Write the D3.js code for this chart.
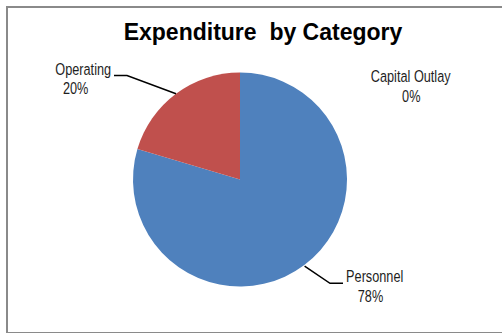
<!DOCTYPE html>
<html>
<head>
<meta charset="utf-8">
<script src="https://cdn.jsdelivr.net/npm/d3@7"></script>
<style>
  html, body { margin: 0; padding: 0; background: #fff; }
  svg { display: block; }
</style>
</head>
<body>
<svg id="chart" width="502" height="333"></svg>
<script>
// ---- data ----
const title = "Expenditure  by Category";
const categories = ["Personnel", "Operating", "Capital Outlay"];
const values = [78, 20, 0];            // percent of total
const colors = ["#4F81BD", "#C0504D", "#9BBB59"];

// ---- layout ----
const W = 502, H = 333;
const cx = 240, cy = 179.5, R = 107;
// label placement relative to pie centre (name line, percent line), plus leader elbows
const labelLayout = {
  "Personnel":      { nx: 134.7, ny: 102, px: 130.5, py: 122,
                      leader: { r: 108, elbow: [90, 103.8], end: [103, 103.8] } },
  "Operating":      { nx: -156.8, ny: -105, px: -164.3, py: -85.5,
                      leader: { r: 107, elbow: [-113, -104], end: [-126, -104] } },
  "Capital Outlay": { nx: 170.7, ny: -98, px: 171.3, py: -78, leader: null }
};
const narrow = 0.77;   // horizontal compression of the narrow label face

const svg = d3.select("#chart");

// chart border
svg.append("rect")
  .attr("x", 7).attr("y", 7)
  .attr("width", 530).attr("height", 326)
  .attr("fill", "#fff")
  .attr("stroke", "#8a8a8a")
  .attr("stroke-width", 2);

// title
svg.append("text")
  .attr("x", 263).attr("y", 39.5)
  .attr("text-anchor", "middle")
  .attr("font-family", "Arial, 'Liberation Sans', sans-serif")
  .attr("font-weight", "bold")
  .attr("font-size", 23)
  .attr("fill", "#000")
  .style("white-space", "pre")
  .text(title);

const data = categories.map((c, i) => ({ name: c, value: values[i], color: colors[i] }));

const pie = d3.pie().sort(null).value(d => d.value).startAngle(0).endAngle(2 * Math.PI);
const arcs = pie(data);
const arc = d3.arc().innerRadius(0).outerRadius(R);

const g = svg.append("g").attr("transform", `translate(${cx},${cy})`);

g.selectAll("path.slice")
  .data(arcs)
  .join("path")
  .attr("class", "slice")
  .attr("d", arc)
  .attr("fill", d => d.data.color);

// leader lines
arcs.forEach(a => {
  const L = labelLayout[a.data.name];
  if (!L || !L.leader || a.data.value === 0) return;
  const mid = (a.startAngle + a.endAngle) / 2;
  const p0 = [Math.sin(mid) * L.leader.r, -Math.cos(mid) * L.leader.r];
  g.append("path")
    .attr("d", d3.line()([p0, L.leader.elbow, L.leader.end]))
    .attr("fill", "none")
    .attr("stroke", "#000")
    .attr("stroke-width", 1.5);
});

// labels
const labelFont = "Arial, 'Liberation Sans', sans-serif";
function addLabel(x, y, txt) {
  g.append("g")
    .attr("transform", `translate(${x},${y}) scale(${narrow},1)`)
    .append("text")
    .attr("text-anchor", "middle")
    .attr("font-family", labelFont)
    .attr("font-size", 16.5)
    .attr("fill", "#1e1e1e")
    .text(txt);
}
arcs.forEach(a => {
  const L = labelLayout[a.data.name];
  addLabel(L.nx, L.ny, a.data.name);
  addLabel(L.px, L.py, d3.format(".0f")(a.data.value) + "%");
});
</script>
</body>
</html>
